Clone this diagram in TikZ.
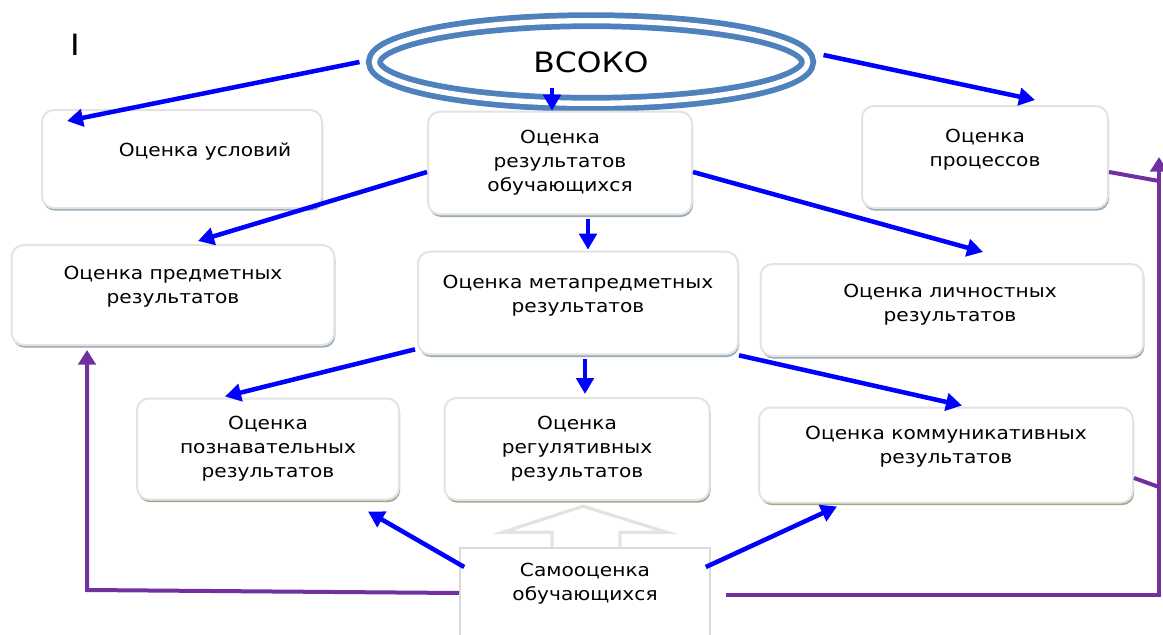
\documentclass[tikz,border=0pt]{standalone}
\usepackage{fontspec}
\setmainfont[FakeStretch=1.12]{DejaVu Sans}
\usetikzlibrary{arrows.meta,shapes.geometric,shadows}
\definecolor{vsokoblue}{HTML}{4F81BD}
\definecolor{linkblue}{HTML}{0000FF}
\definecolor{linkpurple}{HTML}{7030A0}
\definecolor{shadowblue}{HTML}{98AAB6}
\definecolor{shadowolive}{HTML}{A2A988}

\begin{document}
\begin{tikzpicture}[x={(0.75pt,0)}, y={(0,-0.75pt)}, font=\fontsize{13.5}{18}\selectfont,
  box/.style={draw=gray!22, line width=1.5pt, rounded corners=9pt, fill=white,
    drop shadow={shadow xshift=0.8pt, shadow yshift=-2pt, fill=#1, opacity=1}},
  box/.default={shadowblue},
  txt/.style={align=center, inner sep=0pt},
  blu/.style={draw=linkblue, line width=3.4pt, -{Triangle[length=12pt,width=13pt]}},
  purp/.style={draw=linkpurple, line width=3pt},
  purparr/.style={purp, -{Triangle[length=11pt,width=13pt]}}]
\useasboundingbox (0,0) rectangle (1163,635);
\clip (0,0) rectangle (1163,635);

\node[font=\fontsize{22}{24}\selectfont] (mark) at (75,45) {I};
\node[ellipse, draw=vsokoblue, line width=4.3pt, double=white, double distance=4pt,
  minimum width=325pt, minimum height=62pt, inner sep=0pt, font=\fontsize{21}{24}\selectfont] (vsoko) at (591,62) {ВСОКО};

% boxes
\node[box, minimum width=210pt, minimum height=73.5pt, label={[txt, shift={(23,-7)}]center:Оценка условий}] (usl) at (182,159) {};
\node[box, minimum width=198pt, minimum height=77pt, label={[txt]center:{Оценка\\результатов\\обучающихся}}] (res) at (560,163) {};
\node[box, minimum width=184.5pt, minimum height=76.5pt, label={[txt, shift={(0,-7)}]center:{Оценка\\процессов}}] (proc) at (985,157) {};
\node[box, minimum width=242pt, minimum height=75pt, label={[txt, shift={(0,-8)}]center:{Оценка предметных\\результатов}}] (pred) at (173,295) {};
\node[box, minimum width=240pt, minimum height=77pt, label={[txt, shift={(0,-7)}]center:{Оценка метапредметных\\результатов}}] (meta) at (578,303) {};
\node[box, minimum width=287pt, minimum height=69pt, label={[txt, shift={(-2,-5)}]center:{Оценка личностных\\результатов}}] (lich) at (952,310) {};
\node[box=shadowolive, minimum width=196.5pt, minimum height=75.75pt, label={[txt]center:{Оценка\\познавательных\\результатов}}] (pozn) at (268,449) {};
\node[box=shadowolive, minimum width=198.75pt, minimum height=76.5pt, label={[txt]center:{Оценка\\регулятивных\\результатов}}] (reg) at (577,449) {};
\node[box=shadowolive, minimum width=280.5pt, minimum height=71.25pt, label={[txt, shift={(0,-8)}]center:{Оценка коммуникативных\\результатов}}] (komm) at (946,455) {};
\node[draw=gray!30, line width=1.2pt, fill=white, minimum width=187.5pt, minimum height=76.5pt,
  label={[txt, shift={(0,-15)}]center:{Самооценка\\обучающихся}}] (samo) at (585,599) {};
\filldraw[draw=gray!22, line width=2.4pt, fill=white] ([shift={(-33,0)}]samo.north)
  -- ++(0,-15) -- ++(-49,0) -- ++(80,-26) -- ++(84,26) -- ++(-47,0) -- ++(0,15);

% blue links
\draw[blu] ([shift={(-12,0)}]vsoko.west) -- ([shift={(26,12)}]usl.north west);
\draw[blu] ([shift={(13,-7)}]vsoko.east) -- ([shift={(50,-5)}]proc.north);
\draw[blu] ([shift={(-39,26)}]vsoko.center) -- ([shift={(-8,0)}]res.north);
\draw[blu] ([shift={(0,9)}]res.west) -- ([shift={(25,-3)}]pred.north);
\draw[blu] ([shift={(0,9)}]res.east) -- ([shift={(31,-11)}]lich.north);
\draw[blu] ([shift={(28,4)}]res.south) -- ([shift={(10,-1)}]meta.north);
\draw[blu] ([shift={(-2,-6)}]meta.south west) -- ([shift={(-43,-1)}]pozn.north);
\draw[blu] (meta.south east) -- ([shift={(16,-1)}]komm.north);
\draw[blu] ([shift={(7,4)}]meta.south) -- ([shift={(8,-3)}]reg.north);
\draw[blu] ([shift={(5,-32)}]samo.west) -- ([shift={(-32,11)}]pozn.south east);
\draw[blu] ([shift={(-5,-32)}]samo.east) -- ([shift={(-109,3)}]komm.south);

% purple links
\coordinate (lcorner) at (87,590);
\coordinate (rcorner) at (1159,595);
\coordinate (pjoin1) at (1159,181);
\coordinate (pjoin2) at (1159,487);
\draw[purparr, shorten >=3pt] ([shift={(0,-6)}]samo.west) -- (lcorner) -- (lcorner |- pred.south);
\draw[purparr] ([shift={(15,-4)}]samo.east) -- (rcorner) -- (rcorner |- proc.center);
\draw[purp] ([shift={(0,15)}]proc.east) -- (pjoin1);
\draw[purp] ([shift={(0,23)}]komm.east) -- (pjoin2);
\end{tikzpicture}
\end{document}
